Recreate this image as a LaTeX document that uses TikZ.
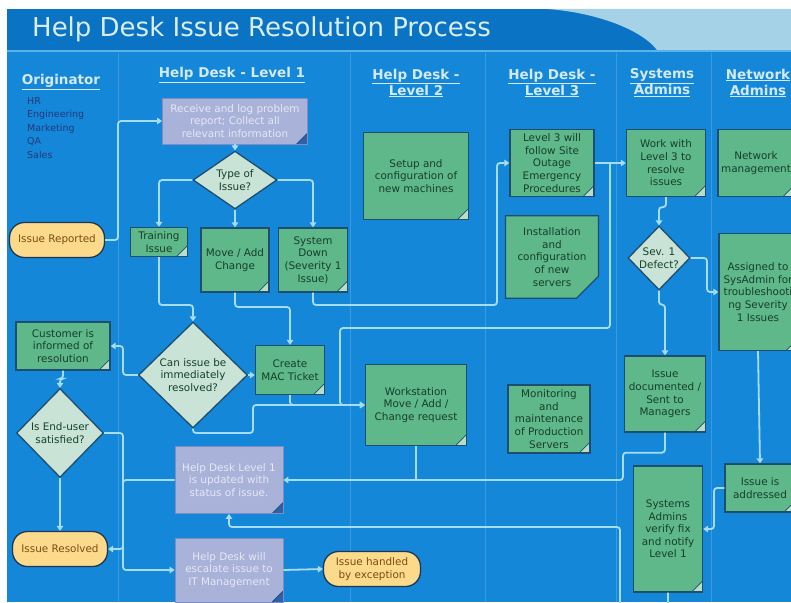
\documentclass[tikz,border=0pt]{standalone}
\usepackage{fontspec}
\setmainfont{DejaVu Sans}
\usetikzlibrary{arrows.meta,shapes.geometric,shapes.misc}
\definecolor{lanebg}{HTML}{1587D8}
\definecolor{titlebg}{HTML}{0B73C3}
\definecolor{swoosh}{HTML}{A6D2E8}
\definecolor{sepcol}{HTML}{5CB2E8}
\definecolor{lanecol}{HTML}{3A9BE0}
\definecolor{titlecol}{HTML}{D8EEF8}
\definecolor{hdrcol}{HTML}{D2EAF8}
\definecolor{listcol}{HTML}{22397A}
\definecolor{greenfill}{HTML}{5EB889}
\definecolor{greentext}{HTML}{173F2C}
\definecolor{edgecol}{HTML}{1E4D6E}
\definecolor{diafill}{HTML}{C9E4D6}
\definecolor{foldlt}{HTML}{B9DEC8}
\definecolor{greyfill}{HTML}{A9B2D9}
\definecolor{greyedge}{HTML}{7F8DC4}
\definecolor{greytext}{HTML}{E6E8F5}
\definecolor{folddk}{HTML}{2E62A8}
\definecolor{pillfill}{HTML}{FBDB8B}
\definecolor{pilledge}{HTML}{1F3552}
\definecolor{pilltext}{HTML}{7A4C12}
\definecolor{linecol}{HTML}{A5DDF7}
\newcommand{\boxfont}{\fontsize{10.4}{12.6}\selectfont}
\newcommand{\hdrfont}{\bfseries\fontsize{13.5}{16}\selectfont}
\newcommand{\titlefont}{\fontsize{26}{30}\selectfont}

\begin{document}
\begin{tikzpicture}[x=1pt, y=-1pt,
  dogear/.style={path picture={
    \fill[#1] ([xshift=-11pt]path picture bounding box.south east) -- (path picture bounding box.south east)
      -- ([yshift=11pt]path picture bounding box.south east) -- cycle;
    \draw[edgecol, line width=0.7pt] ([xshift=-11pt]path picture bounding box.south east)
      -- ([yshift=11pt]path picture bounding box.south east);}},
  gbox/.style={draw=edgecol, line width=1.3pt, fill=greenfill, text=greentext, font=\boxfont,
               align=center, inner sep=1pt, dogear=foldlt},
  cbox/.style={chamfered rectangle, chamfered rectangle corners=south east,
               chamfered rectangle xsep=11pt, chamfered rectangle ysep=11pt,
               draw=edgecol, line width=1.3pt, fill=greenfill, text=greentext, font=\boxfont,
               align=center, inner sep=1pt},
  greybox/.style={draw=greyedge, line width=0.8pt, fill=greyfill, text=greytext, font=\boxfont,
               align=center, inner sep=1pt, dogear=folddk},
  dia/.style={diamond, draw=edgecol, line width=1.3pt, fill=diafill, text=greentext, font=\boxfont,
              align=center, inner sep=0pt},
  pill/.style={rounded corners=15pt, draw=pilledge, line width=1.3pt, fill=pillfill, text=pilltext,
               font=\boxfont, align=center, inner sep=1pt, minimum height=35pt},
  hdr/.style={font=\hdrfont, text=hdrcol, align=center, inner sep=0pt},
  conn/.style={draw=linecol, line width=1.8pt, rounded corners=3pt},
  arr/.style={conn, -{Triangle[length=5pt,width=6.5pt]}}]

  \useasboundingbox (0,0) rectangle (791,602);
  \clip (0,0) rectangle (791,602);
  % background and title bar
  \fill[white] (0,0) rectangle (791,602);
  \fill[lanebg] (7,9) rectangle (791,602);
  \fill[titlebg] (7,9) rectangle (791,50);
  \fill[swoosh] (547,9) .. controls (592,12) and (640,28) .. (657,50) -- (791,50) -- (791,9) -- cycle;
  \draw[sepcol, line width=2pt] (7,51) -- (791,51);
  \foreach \x in {118,350,485,616,711}
    \draw[lanecol, line width=0.8pt] (\x,53) -- (\x,602);
  \node[anchor=base west, font=\titlefont, text=titlecol, inner sep=0pt] (title) at (32,37)
    {Help Desk Issue Resolution Process};

  % lane headings
  \node[hdr] (horig) at (61,82) {\underline{Originator}};
  \node[hdr] (hlev1) at (232,75) {\underline{Help Desk - Level 1}};
  \node[hdr] (hlev2) at (416,83) {\underline{Help Desk -}\\\underline{Level 2}};
  \node[hdr] (hlev3) at (552,83) {\underline{Help Desk -}\\\underline{Level 3}};
  \node[hdr] (hsys) at (662,83) {\underline{Systems}\\\underline{Admins}};
  \node[hdr] (hnet) at (758,83) {\underline{Network}\\\underline{Admins}};
  \node[anchor=north west, align=left, inner sep=0pt, text=listcol,
        font=\fontsize{9.5}{13.5}\selectfont] (dept) at (27,97) {HR\\Engineering\\Marketing\\QA\\Sales};

  % originator lane
  \node[pill, minimum width=95pt] (rep) at (57,240) {Issue Reported};
  \node[gbox, minimum width=94pt, minimum height=48pt] (cust) at (63,346) {Customer is\\informed of\\resolution};
  \node[dia, minimum width=87pt, minimum height=89pt] (sat) at (60,433) {Is End-user\\satisfied?};
  \node[pill, minimum width=95pt] (res) at (60,549) {Issue Resolved};

  % help desk level 1
  \node[greybox, minimum width=145pt, minimum height=46pt] (recv) at (235,121)
    {Receive and log problem\\report; Collect all\\relevant information};
  \node[dia, minimum width=84pt, minimum height=54pt] (typ) at (235,180) {Type of\\Issue?};
  \node[gbox, minimum width=57pt, minimum height=29pt] (train) at (159,242) {Training\\Issue};
  \node[gbox, minimum width=68pt, minimum height=64pt] (move) at (235,260) {Move / Add\\Change};
  \node[gbox, minimum width=69pt, minimum height=64pt] (down) at (313,260) {System\\Down\\(Severity 1\\Issue)};
  \node[dia, minimum width=109pt, minimum height=106pt] (can) at (193,375) {Can issue be\\immediately\\resolved?};
  \node[gbox, minimum width=69pt, minimum height=49pt] (tick) at (290,370) {Create\\MAC Ticket};
  \node[greybox, minimum width=108pt, minimum height=67pt] (upd) at (229,480)
    {Help Desk Level 1\\is updated with\\status of issue.};
  \node[greybox, minimum width=108pt, minimum height=64pt] (esc) at (229,570)
    {Help Desk will\\escalate issue to\\IT Management};
  \node[pill, minimum width=97pt] (exc) at (372,569) {Issue handled\\by exception};

  % help desk level 2 and 3
  \node[gbox, minimum width=105pt, minimum height=87pt] (setup) at (416,176) {Setup and\\configuration of\\new machines};
  \node[gbox, minimum width=101pt, minimum height=81pt] (ws) at (416,405) {Workstation\\Move / Add /\\Change request};
  \node[gbox, minimum width=84pt, minimum height=67pt] (outage) at (552,163)
    {Level 3 will\\follow Site\\Outage\\Emergency\\Procedures};
  \node[cbox, minimum width=85pt, minimum height=75pt] (inst) at (552,257)
    {Installation\\and\\configuration\\of new\\servers};
  \node[gbox, minimum width=82pt, minimum height=68pt] (mon) at (549,419)
    {Monitoring\\and\\maintenance\\of Production\\Servers};

  % systems and network admins
  \node[gbox, minimum width=79pt, minimum height=67pt] (work) at (666,163) {Work with\\Level 3 to\\resolve\\issues};
  \node[dia, minimum width=62pt, minimum height=64pt] (sev) at (659,258) {Sev. 1\\Defect?};
  \node[gbox, minimum width=81pt, minimum height=76pt] (doc) at (665,394) {Issue\\documented /\\Sent to\\Managers};
  \node[gbox, minimum width=69pt, minimum height=126pt] (verify) at (668,529)
    {Systems\\Admins\\verify fix\\and notify\\Level 1};
  \node[gbox, minimum width=76pt, minimum height=67pt] (net) at (756,163) {Network\\management};
  \node[gbox, minimum width=78pt, minimum height=117pt] (asg) at (758,292)
    {Assigned to\\SysAdmin for\\troubleshooti\\ng Severity\\1 Issues};
  \node[gbox, minimum width=70pt, minimum height=48pt] (addr) at (760,488) {Issue is\\addressed};

  % connectors
  \draw[arr] (rep.east) -- (118,240) |- (recv.west);
  \draw[arr] (recv.south) -- (typ.north);
  \draw[arr] (typ.west) -| (train.north);
  \draw[arr] (typ.south) -- (move.north);
  \draw[arr] (typ.east) -| (down.north);
  \draw[arr] (train.south) -- (159,305) -| (can.north);
  \draw[arr] (move.south) -- (235,307) -| (tick.north);
  \draw[arr] (down.south) -- (313,305) -- (497,305) |- (outage.west);
  \draw[arr] (can.east) -- (can.east -| tick.west);
  \draw[arr] (outage.east) -- (work.west);
  \draw[arr] (610,163) |- (340,328) |- (ws.west);
  \draw[arr] (tick.south) |- (ws.west);
  \draw[arr] (can.south) -- (193,433) -- (253,433) |- (ws.west);
  \draw[arr] (work.south) -- ++(0,10) -| (sev.north);
  \draw[arr] (sev.east) -- (707,258) |- (asg.west);
  \draw[arr] (sev.south) -- ++(0,14) -| (doc.north);
  \draw[arr] (asg.south) -- (addr.north);
  \draw[arr] (addr.west) -- (714,488) |- (verify.east);
  \draw[arr] (doc.south) -- ++(0,20) -| (623,470) |- (upd.east);
  \draw[conn] (ws.south) -- (ws.south |- upd.east);
  \draw[arr] (verify.south) -- ++(0,20) -| (620,527) -| (upd.south);
  \draw[arr] (can.west) -- (123,375) |- (cust.east);
  \draw[arr] (upd.west) -- (123,480) |- (res.east);
  \draw[arr] (sat.east) -- (123,433) |- (esc.west);
  \draw[arr] (cust.south) -- ++(0,8) -| (sat.north);
  \draw[arr] (sat.south) -- (res.north);
  \draw[arr] (esc.east) -- (exc.west);
\end{tikzpicture}
\end{document}
